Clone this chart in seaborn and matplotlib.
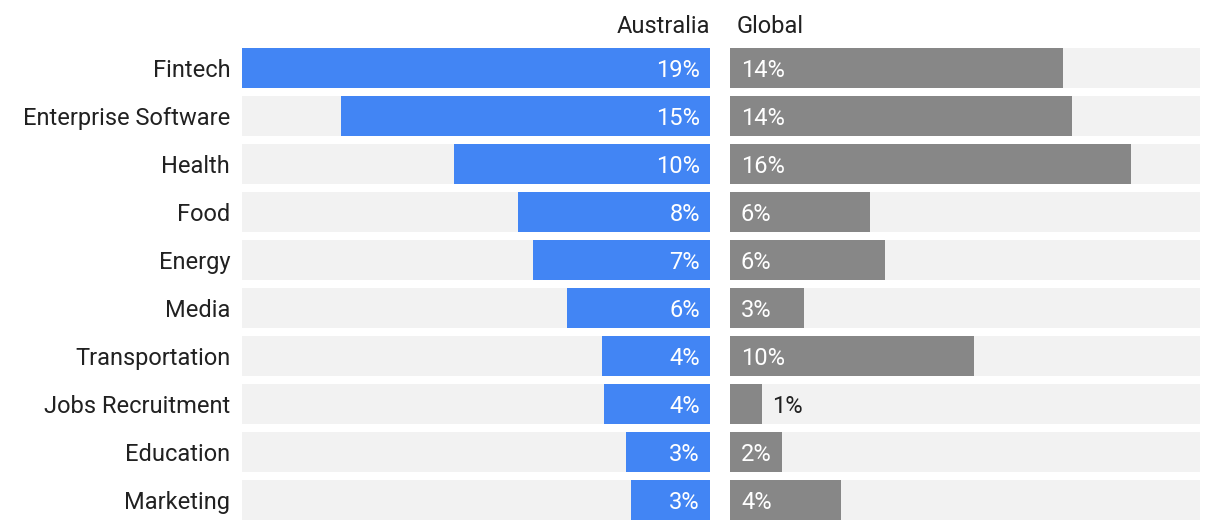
import matplotlib
matplotlib.use("Agg")
import matplotlib.pyplot as plt
import seaborn as sns
import pandas as pd

categories = ["Fintech", "Enterprise Software", "Health", "Food", "Energy",
              "Media", "Transportation", "Jobs Recruitment", "Education", "Marketing"]
australia = [19.0, 15.0, 10.4, 7.8, 7.2, 5.8, 4.4, 4.3, 3.4, 3.2]
global_ = [13.5, 13.9, 16.3, 5.7, 6.3, 3.0, 9.9, 1.3, 2.1, 4.5]
australia_labels = ["19%", "15%", "10%", "8%", "7%", "6%", "4%", "4%", "3%", "3%"]
global_labels = ["14%", "14%", "16%", "6%", "6%", "3%", "10%", "1%", "2%", "4%"]

sns.set_theme(style="white")
plt.rcParams['font.family'] = ['Roboto', 'DejaVu Sans']

BLUE = "#4285F4"
GREY = "#878787"
BG = "#F2F2F2"
TXT = "#212121"
FS = 17

max_left = 19.0
max_right = 470 / (468 / 19.0)

df = pd.DataFrame({"cat": categories, "au": australia, "gl": global_,
                   "bgl": [max_left] * len(categories),
                   "bgr": [max_right] * len(categories)})

W, H = 1220, 530
fig = plt.figure(figsize=(W / 100, H / 100), dpi=100)
axL = fig.add_axes([242 / W, 1 - 520 / H, 468 / W, 472 / H])
axR = fig.add_axes([730 / W, 1 - 520 / H, 470 / W, 472 / H])

bw = 40 / 48
sns.barplot(data=df, y="cat", x="bgl", orient="h", color=BG, width=bw,
            saturation=1, ax=axL, linewidth=0)
sns.barplot(data=df, y="cat", x="au", orient="h", color=BLUE, width=bw,
            saturation=1, ax=axL, linewidth=0)
sns.barplot(data=df, y="cat", x="bgr", orient="h", color=BG, width=bw,
            saturation=1, ax=axR, linewidth=0)
sns.barplot(data=df, y="cat", x="gl", orient="h", color=GREY, width=bw,
            saturation=1, ax=axR, linewidth=0)

n = len(categories)
for ax in (axL, axR):
    ax.set_ylim(n - 1 + bw / 2, -bw / 2)
    for s in ax.spines.values():
        s.set_visible(False)
    ax.set_xlabel("")
    ax.set_ylabel("")
    ax.set_xticks([])

axL.set_xlim(max_left, 0)
axR.set_xlim(0, max_right)
axL.tick_params(axis="y", length=0, pad=8.5, labelsize=FS, labelcolor=TXT)
axR.set_yticks([])

px_l = max_left / 468
for i, (v, lab) in enumerate(zip(australia, australia_labels)):
    axL.text(10 * px_l, i, lab, ha="right", va="center_baseline", color="white", fontsize=FS)

px_r = max_right / 470
for i, (v, lab) in enumerate(zip(global_, global_labels)):
    if v / px_r > 45:
        axR.text(11 * px_r, i, lab, ha="left", va="center_baseline", color="white", fontsize=FS)
    else:
        axR.text(v + 10 * px_r, i, lab, ha="left", va="center_baseline", color=TXT, fontsize=FS)

fig.text(710 / W, 1 - 24 / H, "Australia", ha="right", va="center_baseline", fontsize=FS, color=TXT)
fig.text(737 / W, 1 - 24 / H, "Global", ha="left", va="center_baseline", fontsize=FS, color=TXT)

fig.savefig("out.png", dpi=100, facecolor="white")
